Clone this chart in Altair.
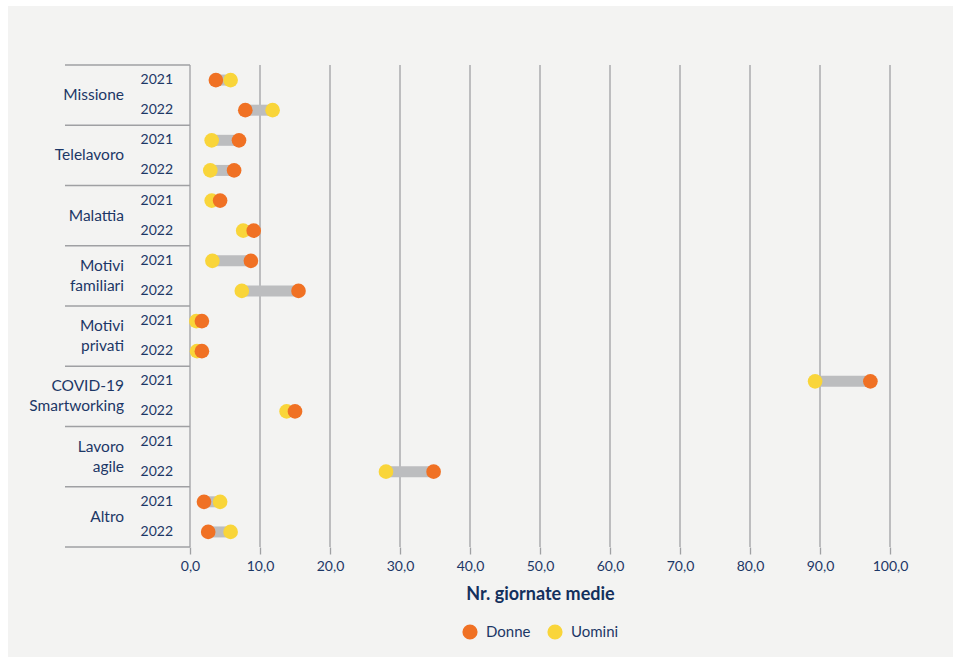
import altair as alt
import pandas as pd

# Average number of days by type of absence, year and sex
categories = ["Missione", "Telelavoro", "Malattia", "Motivi familiari",
              "Motivi privati", "COVID-19 Smartworking", "Lavoro agile", "Altro"]
category_labels = ["Missione", "Telelavoro", "Malattia", "Motivi\nfamiliari",
                   "Motivi\nprivati", "COVID-19\nSmartworking", "Lavoro\nagile", "Altro"]
years = ["2021", "2022"]

donne_2021 = [3.7, 7.0, 4.3, 8.7, 1.7, 97.2, None, 2.0]
donne_2022 = [7.9, 6.3, 9.1, 15.5, 1.7, 15.0, 34.8, 2.6]
uomini_2021 = [5.8, 3.1, 3.1, 3.2, 0.9, 89.3, None, 4.3]
uomini_2022 = [11.8, 2.9, 7.6, 7.4, 1.0, 13.8, 28.0, 5.8]

x_ticks = [0, 10, 20, 30, 40, 50, 60, 70, 80, 90, 100]

ORANGE = "#f07124"
YELLOW = "#f9d53a"
NAVY = "#1c3766"
GREY_LINE = "#9fa0a3"
BAR_GREY = "#bcbdbf"
BG = "#f3f3f2"
FONT = "Lato"

records = []
for i, cat in enumerate(categories):
    for year, d, u in ((years[0], donne_2021[i], uomini_2021[i]),
                       (years[1], donne_2022[i], uomini_2022[i])):
        records.append({"row": f"{cat} {year}", "cat": cat,
                        "label": category_labels[i], "year": year,
                        "Donne": d, "Uomini": u})
wide = pd.DataFrame(records)
row_order = list(wide["row"])

long = wide.melt(id_vars=["row", "cat", "year"], value_vars=["Donne", "Uomini"],
                 var_name="sesso", value_name="giorni").dropna()
grid_df = pd.DataFrame({"tick": x_ticks})
one = pd.DataFrame({"k": [0]})

y_scale = alt.Scale(domain=row_order, paddingInner=0, paddingOuter=0)
y_axis = alt.Axis(labels=False, ticks=False, title=None, domain=False, grid=False)

x_scale = alt.Scale(domain=[0, 100], nice=False)
x_axis = alt.Axis(
    values=x_ticks, title="Nr. giornate medie",
    labelExpr="replace(format(datum.value, '.1f'), '.', ',')",
    labelFlush=False, labelOverlap=False,
    grid=False, domain=False, ticks=True, tickColor=GREY_LINE, tickSize=7,
    tickWidth=1.3, labelColor=NAVY, labelFont=FONT, labelFontSize=14,
    labelPadding=5, titleColor="#13305d", titleFont=FONT, titleFontSize=18,
    titleFontWeight="bold", titlePadding=12, zindex=1,
)


def y_enc(band=0.5):
    return alt.Y("row:N", sort=row_order, scale=y_scale, axis=y_axis,
                 bandPosition=band)


# thin white margin above and left of the grey panel
margin_top = alt.Chart(one).mark_rect(color="white").encode(
    x=alt.value(-190), x2=alt.value(763), y=alt.value(-65), y2=alt.value(-59))
margin_left = alt.Chart(one).mark_rect(color="white").encode(
    x=alt.value(-190), x2=alt.value(-182), y=alt.value(-65), y2=alt.value(592))

# vertical reference lines (0 is the axis line)
grid = alt.Chart(grid_df).mark_rule(color=GREY_LINE, strokeWidth=1.3).encode(
    x=alt.X("tick:Q", scale=x_scale, axis=x_axis),
    y=alt.value(0), y2=alt.value(482),
)

# group separators on the left label column
group_tops = alt.Chart(wide[wide["year"] == years[0]]).mark_rule(
    color=GREY_LINE, strokeWidth=1.5
).encode(y=y_enc(0), x=alt.value(-125), x2=alt.value(0))

group_bottom = alt.Chart(wide.tail(1)).mark_rule(
    color=GREY_LINE, strokeWidth=1.5
).encode(y=y_enc(1), x=alt.value(-125), x2=alt.value(0))

# grey connector between the two values
bars = alt.Chart(wide.dropna()).mark_rule(
    color=BAR_GREY, strokeWidth=11, strokeCap="butt"
).encode(
    y=y_enc(),
    x=alt.X("Donne:Q", scale=x_scale, axis=x_axis),
    x2="Uomini:Q",
)

points = alt.Chart(long).mark_point(
    filled=True, opacity=1, size=215, shape="circle", strokeWidth=0
).encode(
    y=y_enc(),
    x=alt.X("giorni:Q", scale=x_scale, axis=x_axis),
    color=alt.Color(
        "sesso:N",
        scale=alt.Scale(domain=["Donne", "Uomini"], range=[ORANGE, YELLOW]),
        legend=alt.Legend(
            orient="none", legendX=272, legendY=559, direction="horizontal",
            title=None, symbolType="circle", symbolSize=230,
            symbolStrokeWidth=0, labelFont=FONT, labelFontSize=15,
            labelColor=NAVY, labelOffset=8, columnPadding=16, padding=0,
        ),
    ),
    order=alt.Order("giorni:Q"),
)

year_text = alt.Chart(wide).mark_text(
    align="right", baseline="middle", fontSize=14, font=FONT, color=NAVY
).encode(y=y_enc(), x=alt.value(-17), text="year:N")

label_rows = wide[wide["year"] == years[1]]
multi = label_rows["label"].str.contains("\n")

group_text_one = alt.Chart(label_rows[~multi]).mark_text(
    align="right", baseline="middle", fontSize=15.5, font=FONT, color=NAVY
).encode(y=y_enc(0), x=alt.value(-66), text="label:N")

group_text_two = alt.Chart(label_rows[multi]).mark_text(
    align="right", baseline="middle", fontSize=15.5, font=FONT, color=NAVY,
    lineBreak="\n", lineHeight=20, dy=-10
).encode(y=y_enc(0), x=alt.value(-66), text="label:N")

chart = alt.layer(
    margin_top, margin_left, grid, group_tops, group_bottom, bars, points,
    year_text, group_text_one, group_text_two
).properties(
    width=700, height=482,
    autosize=alt.AutoSizeParams(type="none"),
    padding={"left": 190, "top": 65, "right": 63, "bottom": 110},
    background=BG,
).configure_view(stroke=None)

chart.save("out.html", embed_options={"renderer": "svg", "actions": False})
